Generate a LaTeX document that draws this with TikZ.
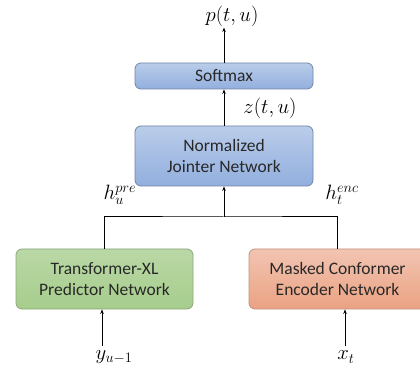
\documentclass[tikz,border=0pt]{standalone}
\usepackage{fontspec}
\setmainfont{Carlito}
\usepackage{amsmath}
\usetikzlibrary{arrows.meta}
\definecolor{bluetop}{RGB}{186,205,234}
\definecolor{bluebot}{RGB}{146,175,222}
\definecolor{blueline}{RGB}{112,132,166}
\definecolor{greentop}{RGB}{186,216,166}
\definecolor{greenbot}{RGB}{166,205,140}
\definecolor{greenline}{RGB}{140,166,122}
\definecolor{orangetop}{RGB}{242,196,178}
\definecolor{orangebot}{RGB}{234,162,130}
\definecolor{orangeline}{RGB}{196,146,124}
\definecolor{txt}{RGB}{40,40,40}

\tikzset{
  box/.style={rounded corners=6pt, line width=0.8pt, align=center,
    font=\fontsize{17.5}{21}\selectfont, text=txt, inner sep=0pt},
  bluebox/.style={box, draw=blueline, top color=bluetop, bottom color=bluebot},
  greenbox/.style={box, draw=greenline, top color=greentop, bottom color=greenbot},
  orangebox/.style={box, draw=orangeline, top color=orangetop, bottom color=orangebot},
  lab/.style={font=\fontsize{20}{22}\selectfont, inner sep=1pt},
  arr/.style={line width=1pt, -{Stealth[length=4.5pt,width=3.5pt]}}
}

\begin{document}
\begin{tikzpicture}[x=1pt,y=-1pt]
\useasboundingbox (0,0) rectangle (420,371);
\clip (0,0) rectangle (420,371);

\node[bluebox, minimum width=178pt, minimum height=26pt] (softmax) at (224,76) {Softmax};
\node[bluebox, minimum width=178pt, minimum height=60pt] (jointer) at (224,156) {Normalized\\Jointer Network};
\node[greenbox, minimum width=177pt, minimum height=60pt] (predictor) at (104.5,279) {Transformer-XL\\Predictor Network};
\node[orangebox, minimum width=177pt, minimum height=60pt] (encoder) at (337.5,279) {Masked Conformer\\Encoder Network};

\node[lab] (pout) at (232,16) {$p(t,u)$};
\node[lab] (zout) at (270,108) {$z(t,u)$};
\node[lab] (hpre) at (120,195) {$h_u^{pre}$};
\node[lab] (henc) at (342,195) {$h_t^{enc}$};
\node[lab] (yin) at (114,357) {$y_{u-1}$};
\node[lab] (xin) at (346,357) {$x_t$};

\coordinate (join) at (224,217);
\coordinate (ytail) at (102,346);
\coordinate (xtail) at (345,346);

\draw[line width=1pt] (predictor.north) |- (join) -| (encoder.north);
\draw[arr] (join) -- (jointer.south);
\draw[arr] (jointer.north) -- (softmax.south);
\draw[arr] (softmax.north) -- (softmax.north |- pout.south);
\draw[arr] (ytail) -- (ytail |- predictor.south);
\draw[arr] (xtail) -- (xtail |- encoder.south);
\end{tikzpicture}
\end{document}
